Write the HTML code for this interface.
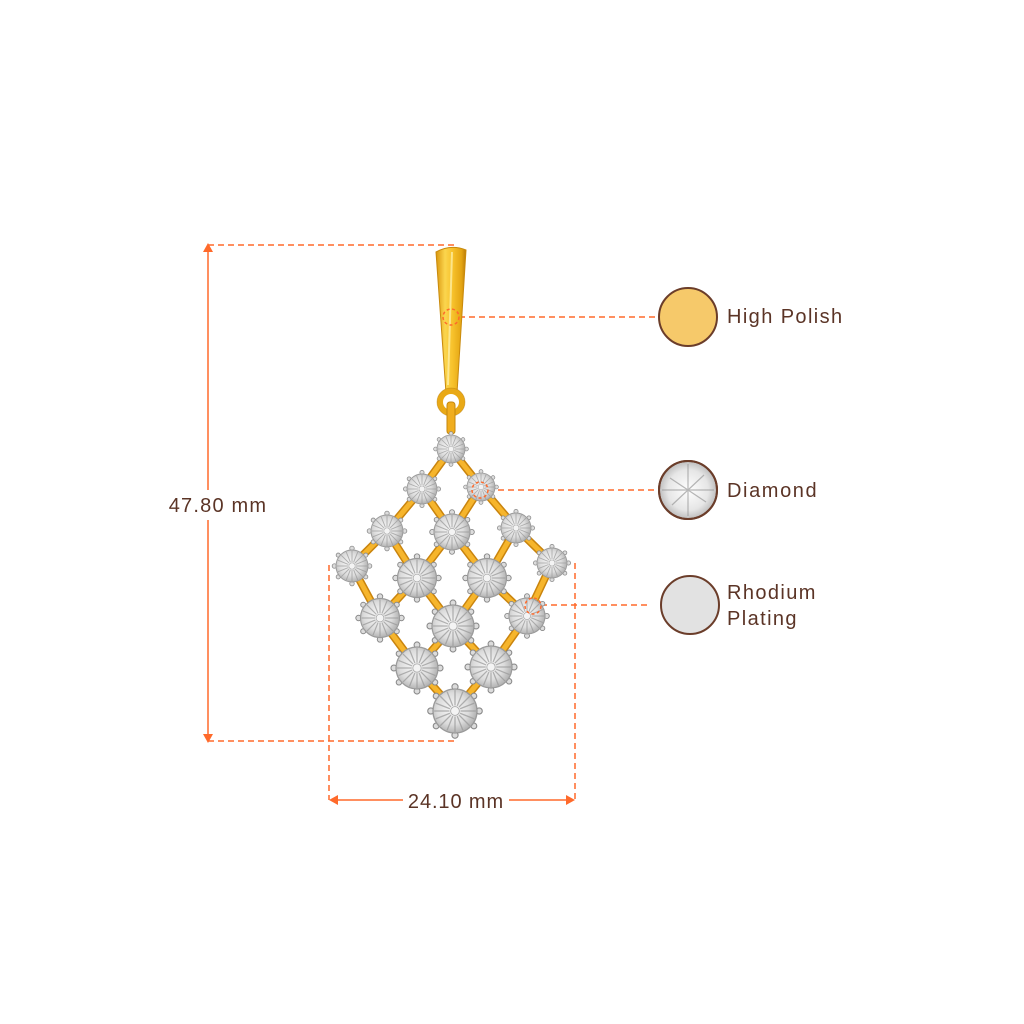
<!DOCTYPE html>
<html><head><meta charset="utf-8"><style>
html,body{margin:0;padding:0;background:#fff;}
svg{display:block;}
text{font-family:"Liberation Sans",sans-serif;fill:#5b3426;}
</style></head><body>
<svg width="1024" height="1024" viewBox="0 0 1024 1024" xmlns="http://www.w3.org/2000/svg">
<defs>
<radialGradient id="gm" cx="0.45" cy="0.45" r="0.6">
<stop offset="0" stop-color="#fafafa"/><stop offset="0.6" stop-color="#dcdcdc"/><stop offset="1" stop-color="#a8a8a8"/>
</radialGradient>
<linearGradient id="bail" x1="0" y1="0" x2="1" y2="0">
<stop offset="0" stop-color="#d9960e"/><stop offset="0.3" stop-color="#fbd54e"/><stop offset="0.55" stop-color="#f7c22c"/><stop offset="0.85" stop-color="#e4a512"/><stop offset="1" stop-color="#b97a08"/>
</linearGradient>
<radialGradient id="dia" cx="0.5" cy="0.5" r="0.5">
<stop offset="0" stop-color="#ffffff"/><stop offset="0.7" stop-color="#e6e6e6"/><stop offset="1" stop-color="#bdbdbd"/>
</radialGradient>
<g id="gem">
<g fill="#dcdcdc" stroke="#8a8a8a" stroke-width="0.05">
<circle cx="0" cy="-1.1" r="0.14"/>
<circle cx="0" cy="1.1" r="0.14"/>
<circle cx="-1.1" cy="0" r="0.14"/>
<circle cx="1.1" cy="0" r="0.14"/>
<circle cx="-0.86" cy="-0.68" r="0.13"/>
<circle cx="0.86" cy="0.68" r="0.13"/>
<circle cx="0.86" cy="-0.68" r="0.13"/>
<circle cx="-0.86" cy="0.68" r="0.13"/>
</g>
<circle cx="0" cy="0" r="1" fill="url(#gm)" stroke="#9a9a9a" stroke-width="0.06"/>
<g stroke="#979797" stroke-width="0.06" opacity="0.7">
<line x1="0" y1="-0.25" x2="0" y2="-0.95"/><line x1="0" y1="0.25" x2="0" y2="0.95"/>
<line x1="-0.25" y1="0" x2="-0.95" y2="0"/><line x1="0.25" y1="0" x2="0.95" y2="0"/>
<line x1="0.18" y1="0.18" x2="0.67" y2="0.67"/><line x1="-0.18" y1="-0.18" x2="-0.67" y2="-0.67"/>
<line x1="0.18" y1="-0.18" x2="0.67" y2="-0.67"/><line x1="-0.18" y1="0.18" x2="-0.67" y2="0.67"/>
<line x1="0.1" y1="-0.23" x2="0.36" y2="-0.88"/><line x1="-0.1" y1="0.23" x2="-0.36" y2="0.88"/>
<line x1="0.23" y1="0.1" x2="0.88" y2="0.36"/><line x1="-0.23" y1="-0.1" x2="-0.88" y2="-0.36"/>
<line x1="-0.1" y1="-0.23" x2="-0.36" y2="-0.88"/><line x1="0.1" y1="0.23" x2="0.36" y2="0.88"/>
<line x1="0.23" y1="-0.1" x2="0.88" y2="-0.36"/><line x1="-0.23" y1="0.1" x2="-0.88" y2="0.36"/>
</g>
<circle cx="0" cy="0" r="0.2" fill="#f4f4f4" stroke="#a8a8a8" stroke-width="0.04"/>
</g>
</defs>

<!-- dimension lines -->
<g stroke="#ff6a2b" fill="none" stroke-width="1.5">
<line x1="208" y1="250" x2="208" y2="490"/>
<line x1="208" y1="520" x2="208" y2="736"/>
<line x1="334" y1="800" x2="403" y2="800"/>
<line x1="509" y1="800" x2="570" y2="800"/>
<g stroke-dasharray="6,4">
<line x1="208" y1="245" x2="458" y2="245"/>
<line x1="208" y1="741" x2="458" y2="741"/>
<line x1="329" y1="565" x2="329" y2="800"/>
<line x1="575" y1="563" x2="575" y2="800"/>
<line x1="459" y1="317" x2="655" y2="317"/>
<line x1="488" y1="490" x2="655" y2="490"/>
<line x1="541" y1="605" x2="647" y2="605"/>
</g>
</g>
<g fill="#ff6a2b">
<polygon points="208,243 203,252 213,252"/>
<polygon points="208,743 203,734 213,734"/>
<polygon points="329,800 338,795 338,805"/>
<polygon points="575,800 566,795 566,805"/>
</g>
<text x="218" y="512" font-size="20" text-anchor="middle" letter-spacing="1.2">47.80 mm</text>
<text x="456" y="808" font-size="20" text-anchor="middle" letter-spacing="0.9">24.10 mm</text>

<!-- swatches -->
<circle cx="688" cy="317" r="29" fill="#f6c96a" stroke="#6b3d2a" stroke-width="2"/>
<circle cx="688" cy="490" r="29" fill="url(#dia)" stroke="#6b3d2a" stroke-width="2"/>
<g stroke="#9a9a9a" stroke-width="1.2" opacity="0.7">
<line x1="670" y1="478" x2="706" y2="502"/><line x1="672" y1="505" x2="704" y2="475"/>
<line x1="688" y1="464" x2="688" y2="516"/><line x1="662" y1="490" x2="714" y2="490"/>
</g>
<circle cx="688" cy="490" r="29" fill="none" stroke="#6b3d2a" stroke-width="2"/>
<circle cx="690" cy="605" r="29" fill="#e2e2e2" stroke="#6b3d2a" stroke-width="2"/>
<text x="727" y="323" font-size="20" letter-spacing="1.4">High Polish</text>
<text x="727" y="497" font-size="20" letter-spacing="1.6">Diamond</text>
<text x="727" y="599" font-size="20" letter-spacing="1.4">Rhodium</text>
<text x="727" y="625" font-size="20" letter-spacing="1.4">Plating</text>

<!-- bail -->
<path d="M436,252 Q451,244 466,250 L457,393 L446,393 Z" fill="url(#bail)" stroke="#c98a0c" stroke-width="1"/>
<path d="M452,252 L448,385" stroke="#fff3b0" stroke-width="2" opacity="0.7"/>
<circle cx="451" cy="402" r="11" fill="none" stroke="#e9a916" stroke-width="6"/>
<circle cx="451" cy="402" r="14" fill="none" stroke="#b57a08" stroke-width="0.8" opacity="0.5"/>
<rect x="447" y="402" width="8" height="32" rx="3" fill="#f0ad1e" stroke="#c4860c" stroke-width="1"/>

<!-- lattice -->
<g fill="none" stroke-linecap="round" stroke-linejoin="round">
<g stroke="#c9840e" stroke-width="8">
<polyline points="451,449 481,487 516,528 552,563"/>
<polyline points="422,489 452,532 487,578 527,616"/>
<polyline points="387,531 417,578 453,626 491,667"/>
<polyline points="352,566 380,618 417,668 455,711"/>
<polyline points="451,449 422,489 387,531 352,566"/>
<polyline points="481,487 452,532 417,578 380,618"/>
<polyline points="516,528 487,578 453,626 417,668"/>
<polyline points="552,563 527,616 491,667 455,711"/>
</g>
<g stroke="#f6b52c" stroke-width="5">
<polyline points="451,449 481,487 516,528 552,563"/>
<polyline points="422,489 452,532 487,578 527,616"/>
<polyline points="387,531 417,578 453,626 491,667"/>
<polyline points="352,566 380,618 417,668 455,711"/>
<polyline points="451,449 422,489 387,531 352,566"/>
<polyline points="481,487 452,532 417,578 380,618"/>
<polyline points="516,528 487,578 453,626 417,668"/>
<polyline points="552,563 527,616 491,667 455,711"/>
</g>
</g>

<!-- gems -->
<use href="#gem" transform="translate(451,449) scale(14)"/>
<use href="#gem" transform="translate(422,489) scale(15)"/>
<use href="#gem" transform="translate(481,487) scale(14)"/>
<use href="#gem" transform="translate(387,531) scale(16)"/>
<use href="#gem" transform="translate(452,532) scale(18)"/>
<use href="#gem" transform="translate(516,528) scale(15)"/>
<use href="#gem" transform="translate(352,566) scale(16)"/>
<use href="#gem" transform="translate(417,578) scale(19.5)"/>
<use href="#gem" transform="translate(487,578) scale(19.5)"/>
<use href="#gem" transform="translate(552,563) scale(15)"/>
<use href="#gem" transform="translate(380,618) scale(19.5)"/>
<use href="#gem" transform="translate(453,626) scale(21)"/>
<use href="#gem" transform="translate(527,616) scale(18)"/>
<use href="#gem" transform="translate(417,668) scale(21)"/>
<use href="#gem" transform="translate(491,667) scale(21)"/>
<use href="#gem" transform="translate(455,711) scale(22)"/>

<!-- indicator circles on top -->
<g stroke="#ff6a2b" fill="none" stroke-width="1.5" stroke-dasharray="3,2.5">
<circle cx="480" cy="490" r="8"/>
<circle cx="533" cy="606" r="8"/>
<circle cx="451" cy="317" r="8"/>
</g>
</svg>
</body></html>
